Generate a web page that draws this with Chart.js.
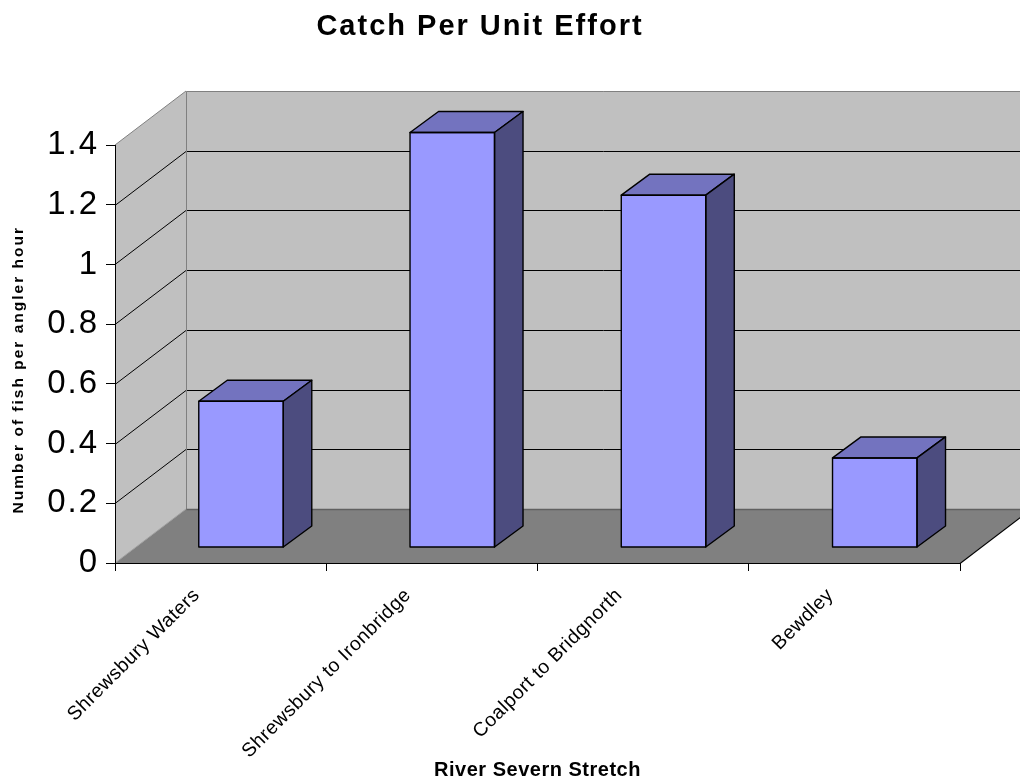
<!DOCTYPE html>
<html>
<head>
<meta charset="utf-8">
<script src="https://cdn.jsdelivr.net/npm/chart.js@4.4.1/dist/chart.umd.min.js"></script>
<style>
  html, body { margin: 0; padding: 0; background: #ffffff; }
  #wrap { width: 1020px; height: 778px; position: relative; }
  canvas { display: block; }
</style>
</head>
<body>
<div id="wrap"><canvas id="c" width="1020" height="778"></canvas></div>
<script>
// ---- data ----
const categories = ['Shrewsbury Waters', 'Shrewsbury to Ironbridge', 'Coalport to Bridgnorth', 'Bewdley'];
const cpueValues = [0.49, 1.39, 1.18, 0.30];
const yTickValues = [0, 0.2, 0.4, 0.6, 0.8, 1, 1.2, 1.4];
const yTickLabels = ['0', '0.2', '0.4', '0.6', '0.8', '1', '1.2', '1.4'];
const chartTitle = 'Catch Per Unit Effort';
const xAxisTitle = 'River Severn Stretch';
const yAxisTitle = 'Number of fish per angler hour';

// ---- 3D look (styling, not data) ----
const DEPTH = { dx: 71, dy: -54 };          // front plane -> back wall
const BAR_OFFSET = { dx: 20.4, dy: -15.5 }; // front plane -> bar front face
const BAR_DEPTH = { dx: 28.5, dy: -21 };    // bar front face -> bar back face
const FONT = '"Liberation Sans", Arial, Helvetica, sans-serif';

function poly(ctx, pts) {
  ctx.beginPath();
  ctx.moveTo(pts[0][0], pts[0][1]);
  for (let i = 1; i < pts.length; i++) ctx.lineTo(pts[i][0], pts[i][1]);
  ctx.closePath();
}
function line(ctx, x1, y1, x2, y2, color) {
  ctx.strokeStyle = color;
  ctx.beginPath();
  ctx.moveTo(x1, y1);
  ctx.lineTo(x2, y2);
  ctx.stroke();
}

const walls3d = {
  id: 'walls3d',
  beforeDraw(chart) {
    const ctx = chart.ctx;
    const a = chart.chartArea;
    const y = chart.scales.y;
    const L = a.left, R = a.right, T = a.top, B = a.bottom;
    const dx = DEPTH.dx, dy = DEPTH.dy;
    ctx.save();
    ctx.letterSpacing = '0px';
    // back wall + side wall
    ctx.fillStyle = '#C0C0C0';
    poly(ctx, [[L + dx, T + dy], [R + dx, T + dy], [R + dx, B + dy], [L + dx, B + dy]]);
    ctx.fill();
    poly(ctx, [[L, T], [L + dx, T + dy], [L + dx, B + dy], [L, B]]);
    ctx.fill();
    // floor
    ctx.fillStyle = '#808080';
    poly(ctx, [[L, B], [R, B], [R + dx, B + dy], [L + dx, B + dy]]);
    ctx.fill();
    // grid lines on the walls
    ctx.lineWidth = 1;
    yTickValues.forEach(v => {
      if (v <= y.min || v >= y.max) return;
      const py = Math.round(y.getPixelForValue(v)) + 0.5;
      line(ctx, L + dx, py + dy, R + dx, py + dy, '#000');
      line(ctx, L, py, L + dx, py + dy, '#000');
    });
    // wall edges
    const xb = Math.round(L + dx) + 0.5;
    const yt = Math.round(T + dy) + 0.5;
    const yb = Math.round(B + dy) + 0.5;
    line(ctx, L, T, L + dx, T + dy, '#808080');
    line(ctx, xb, yt, R + dx, yt, '#808080');
    line(ctx, xb, yt, xb, yb, '#808080');
    line(ctx, L, B, L + dx, B + dy, '#A0A0A0');
    ctx.lineWidth = 1.5;
    line(ctx, xb, yb, R + dx, yb, '#606060');
    ctx.lineWidth = 1.2;
    line(ctx, R, B + 0.5, R + dx, B + dy + 0.5, '#000');
    ctx.restore();
    ctx.letterSpacing = '2px';
  },
  beforeDatasetsDraw(chart) {
    chart.ctx.save();
    chart.ctx.translate(BAR_OFFSET.dx, BAR_OFFSET.dy);
  },
  afterDatasetsDraw(chart) {
    const ctx = chart.ctx;
    const meta = chart.getDatasetMeta(0);
    const bdx = BAR_DEPTH.dx, bdy = BAR_DEPTH.dy;
    ctx.lineWidth = 1.4;
    ctx.strokeStyle = '#000';
    ctx.lineJoin = 'round';
    meta.data.forEach(bar => {
      const p = bar.getProps(['x', 'y', 'base', 'width'], true);
      const l = p.x - p.width / 2, r = p.x + p.width / 2, t = p.y, b = p.base;
      // top face
      ctx.fillStyle = '#7373BF';
      poly(ctx, [[l, t], [l + bdx, t + bdy], [r + bdx, t + bdy], [r, t]]);
      ctx.fill();
      ctx.stroke();
      // side face
      ctx.fillStyle = '#4C4C7F';
      poly(ctx, [[r, t], [r + bdx, t + bdy], [r + bdx, b + bdy], [r, b]]);
      ctx.fill();
      ctx.stroke();
      // front face outline
      ctx.strokeRect(l, t, r - l, b - t);
    });
    ctx.restore();
    ctx.letterSpacing = '0.5px';
  },
  afterDraw(chart) {
    chart.ctx.letterSpacing = '0px';
  }
};

Chart.defaults.font.family = FONT;
Chart.defaults.color = '#000';

new Chart(document.getElementById('c'), {
  type: 'bar',
  data: {
    labels: categories,
    datasets: [{
      data: cpueValues,
      backgroundColor: '#9999FF',
      borderColor: '#000000',
      borderWidth: 0,
      barPercentage: 0.4,
      categoryPercentage: 1.0
    }]
  },
  options: {
    responsive: false,
    animation: false,
    devicePixelRatio: 1,
    layout: { padding: { left: 0, right: 60, top: 0, bottom: 0 }, autoPadding: false },
    plugins: {
      legend: { display: false },
      tooltip: { enabled: false },
      title: {
        display: true,
        text: chartTitle,
        color: '#000',
        font: { family: FONT, size: 29, weight: 'bold', lineHeight: 1.2 },
        padding: { top: 10, bottom: 100.2 }
      }
    },
    scales: {
      x: {
        grid: { display: true, drawOnChartArea: false, drawTicks: true, tickLength: 8, color: '#000', z: 1, offset: true },
        border: { display: true, color: '#000', width: 1, z: 1 },
        ticks: {
          autoSkip: false, minRotation: 45, maxRotation: 45,
          color: '#000', font: { family: FONT, size: 19.5 },
          padding: 13, labelOffset: -24, z: 1
        },
        title: {
          display: true, text: xAxisTitle, color: '#000',
          font: { family: FONT, size: 20, weight: 'bold', lineHeight: 1.2 },
          padding: { top: 0, bottom: -4 }
        },
        afterFit(s) { s.height = 215; }
      },
      y: {
        min: 0, max: 1.4,
        grid: { display: true, drawOnChartArea: false, drawTicks: true, tickLength: 9, color: '#000' },
        border: { display: true, color: '#000', width: 1 },
        afterBuildTicks(s) { s.ticks = yTickValues.map(v => ({ value: v })); },
        ticks: {
          color: '#000', font: { family: FONT, size: 33 }, padding: 7,
          callback: (v) => {
            const i = yTickValues.findIndex(t => Math.abs(t - v) < 1e-9);
            return i >= 0 ? yTickLabels[i] : '';
          }
        },
        title: {
          display: true, text: yAxisTitle + '     ', color: '#000',
          font: { family: FONT, size: 15.5, weight: 'bold', lineHeight: 1.2 },
          padding: { top: 9, bottom: 0 }
        },
        afterFit(s) { s.width = 115; }
      }
    }
  },
  plugins: [walls3d]
});
</script>
</body>
</html>
